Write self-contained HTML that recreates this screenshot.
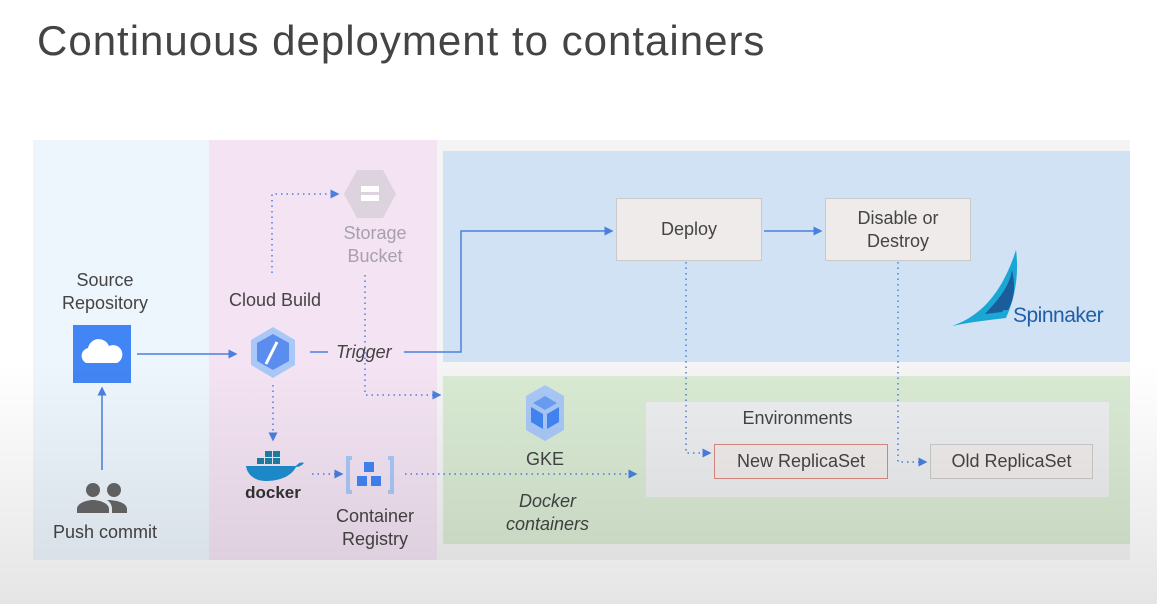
<!DOCTYPE html>
<html><head><meta charset="utf-8"><style>
body{margin:0;width:1157px;height:604px;overflow:hidden;background:#fff;font-family:"Liberation Sans",sans-serif;position:relative}
.a{position:absolute}
.t{position:absolute;color:#444;font-size:18px;text-align:center}
.box{position:absolute;background:#efebea;border:1px solid #c9c9c9;box-sizing:border-box;display:flex;align-items:center;justify-content:center;text-align:center;color:#444;font-size:18px;line-height:23px}
</style></head><body>
<div class="a" style="left:37px;top:17px;font-size:42px;letter-spacing:1px;color:#444">Continuous deployment to containers</div>
<div class="a" style="left:33px;top:140px;width:1097px;height:420px;background:#f4f4f4"></div>
<div class="a" style="left:33px;top:140px;width:176px;height:420px;background:#edf5fd"></div>
<div class="a" style="left:209px;top:140px;width:228px;height:420px;background:#f3e3f3"></div>
<div class="a" style="left:443px;top:151px;width:687px;height:211px;background:#d0e2f3"></div>
<div class="a" style="left:443px;top:376px;width:687px;height:168px;background:#d9ead3"></div>
<div class="a" style="left:646px;top:402px;width:463px;height:95px;background:#ebedef"></div>

<div class="box" style="left:616px;top:198px;width:146px;height:63px">Deploy</div>
<div class="box" style="left:825px;top:198px;width:146px;height:63px">Disable or<br>Destroy</div>
<div class="box" style="left:714px;top:444px;width:174px;height:35px;border-color:#d98a80">New ReplicaSet</div>
<div class="box" style="left:930px;top:444px;width:163px;height:35px">Old ReplicaSet</div>

<div class="t" style="left:40px;top:269px;width:130px;line-height:23px">Source<br>Repository</div>
<div class="t" style="left:40px;top:522px;width:130px">Push commit</div>
<div class="t" style="left:215px;top:290px;width:120px">Cloud Build</div>
<div class="t" style="left:320px;top:222px;width:110px;line-height:23px;color:#a8a0aa">Storage<br>Bucket</div>
<div class="t" style="left:320px;top:505px;width:110px;line-height:23px">Container<br>Registry</div>
<div class="t" style="left:336px;top:342px;font-style:italic">Trigger</div>
<div class="t" style="left:505px;top:449px;width:80px">GKE</div>
<div class="t" style="left:495px;top:490px;width:105px;line-height:23px;font-style:italic">Docker<br>containers</div>
<div class="t" style="left:700px;top:408px;width:195px">Environments</div>
<div class="a" style="left:1013px;top:304px;font-size:21px;letter-spacing:-0.5px;color:#1f5fa8">Spinnaker</div>

<svg class="a" style="left:0;top:0" width="1157" height="604">
<defs><marker id="m" markerWidth="6" markerHeight="6" refX="5" refY="3" orient="auto"><path d="M0,0L6,3L0,6z" fill="#4a7fe0"/></marker></defs>
<g stroke="#4a7fe0" stroke-width="1.5" fill="none">
<path d="M137,354H236" marker-end="url(#m)"/>
<path d="M102,470V388" marker-end="url(#m)"/>
<path d="M310,352H328M404,352H461V231H612" marker-end="url(#m)"/>
<path d="M764,231H821" marker-end="url(#m)"/>
<g stroke-dasharray="1.5 4">
<path d="M272,273V194H338" marker-end="url(#m)"/>
<path d="M365,275V395H440" marker-end="url(#m)"/>
<path d="M273,385V440" marker-end="url(#m)"/>
<path d="M312,474H342" marker-end="url(#m)"/>
<path d="M405,474H636" marker-end="url(#m)"/>
<path d="M686,262V453H710" marker-end="url(#m)"/>
<path d="M898,262V462H926" marker-end="url(#m)"/>
</g></g>
<rect x="73" y="325" width="58" height="58" fill="#4285f4"/>
<path d="M86,363a8,8 0 0 1 2,-15a11,11 0 0 1 21,-2a9,9 0 0 1 8,17z" fill="#fff"/>
<circle cx="93" cy="490" r="7" fill="#666"/><circle cx="114" cy="490" r="7" fill="#666"/>
<path d="M77,513v-4c0-6 10-9 16-9s16 3 16 9v4zM112,513v-4c0-4-2-7-5-9c10 0 20 3 20 9v4z" fill="#666"/>
<polygon points="273,327 295,340 295,365 273,378 251,365 251,340" fill="#a9c8f7"/>
<polygon points="273,334 289,343 289,361 273,370 257,361 257,343" fill="#5b8def"/>
<path d="M277,342L266,364" stroke="#fff" stroke-width="3"/>
<polygon points="357,170 383,170 396,194 383,218 357,218 344,194" fill="#ddd3df"/>
<rect x="361" y="186" width="18" height="6" fill="#fff"/><rect x="361" y="195" width="18" height="6" fill="#fff"/>
<path d="M352,458h-4v34h4M388,458h4v34h-4" stroke="#a9c8f7" stroke-width="4" fill="none"/>
<rect x="364" y="462" width="10" height="10" fill="#4285f4"/><rect x="357" y="476" width="10" height="10" fill="#4285f4"/><rect x="371" y="476" width="10" height="10" fill="#4285f4"/>
<polygon points="545,385 564,396 564,430 545,441 526,430 526,396" fill="#a9c8f7"/>
<polygon points="545,396 557,403 545,410 533,403" fill="#6a9df2"/><path d="M531,407l12,7v15l-12-7zM559,407l-12,7v15l12-7z" fill="#4285f4"/>
<g fill="#1d7fa6"><rect x="257" y="458" width="7" height="6"/><rect x="265" y="458" width="7" height="6"/><rect x="273" y="458" width="7" height="6"/><rect x="265" y="451" width="7" height="6"/><rect x="273" y="451" width="7" height="6"/></g>
<path d="M246,466h50c3-4 6-4 8-3c-2 2-4 4-8 4c-5 10-18 14-30 14c-12 0-19-7-20-15z" fill="#1d8fcf"/>
<text x="273" y="498" font-family="Liberation Sans,sans-serif" font-size="17" font-weight="bold" fill="#333" text-anchor="middle">docker</text>
<path d="M952,326C975,318 1000,300 1016,250C1020,280 1012,305 1006,318C990,320 970,322 952,326z" fill="#1aa7d6"/>
<path d="M985,314C998,300 1006,290 1010,278C1012,295 1008,305 1002,312z" fill="#1b5d9a"/>
<path d="M995,310C1005,295 1010,282 1012,270C1016,288 1014,300 1008,310z" fill="#1b5d9a"/>
</svg>
<div class="a" style="left:0;top:0;width:1157px;height:604px;background:linear-gradient(to bottom,rgba(0,0,0,0) 0,rgba(0,0,0,0) 60%,rgba(0,0,0,0.1) 100%);pointer-events:none"></div>
</body></html>
